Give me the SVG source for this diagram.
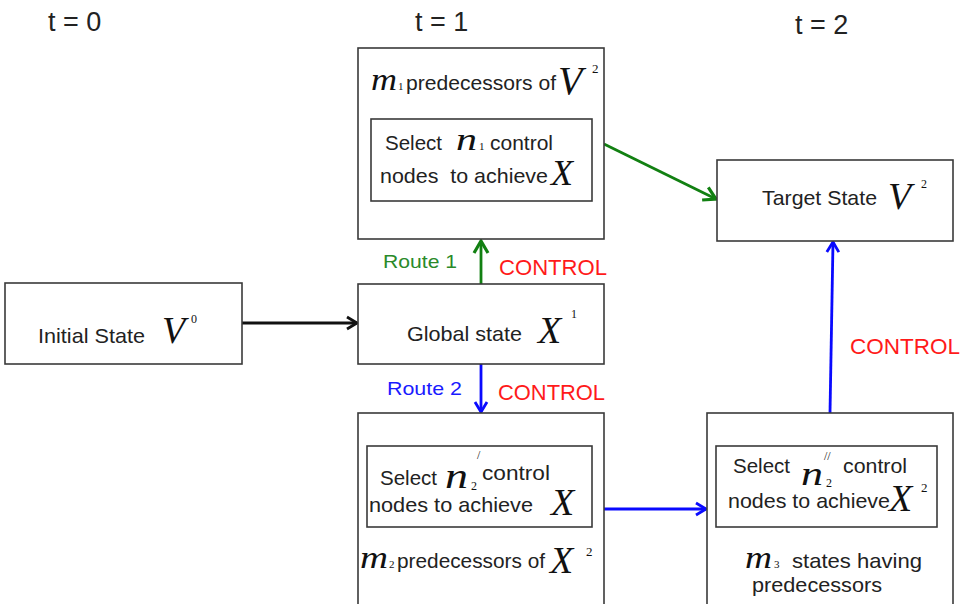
<svg xmlns="http://www.w3.org/2000/svg" width="970" height="604" viewBox="0 0 970 604">
<style>
.box{fill:#fff;stroke:#3a3a3a;stroke-width:1.6}
.s{font-family:"Liberation Sans",Arial,sans-serif;fill:#222;font-size:21px}
.m{font-family:"Liberation Serif","Times New Roman",serif;font-style:italic;fill:#111}
.n{font-family:"Liberation Serif","Times New Roman",serif;fill:#111}
.ctl{font-family:"Liberation Sans",Arial,sans-serif;font-size:22px;fill:#ff1a1a}
.con{fill:none;stroke-width:2.8}
</style>
<defs>
<marker id="ak" markerUnits="userSpaceOnUse" markerWidth="16" markerHeight="16" refX="13" refY="8" orient="auto"><path d="M3,2 L13,8 L3,14" fill="none" stroke="#111" stroke-width="2.8"/></marker>
<marker id="ag" markerUnits="userSpaceOnUse" markerWidth="18" markerHeight="18" refX="15" refY="9" orient="auto"><path d="M3,2 L15,9 L3,16" fill="none" stroke="#128012" stroke-width="3.2"/></marker>
<marker id="ab" markerUnits="userSpaceOnUse" markerWidth="16" markerHeight="16" refX="13" refY="8" orient="auto"><path d="M3,2 L13,8 L3,14" fill="none" stroke="#0a0aff" stroke-width="2.8"/></marker>
</defs>
<rect width="970" height="604" fill="#fff"/>
<g id="time-labels" class="s" style="font-size:27px">
<text x="48" y="31">t = 0</text>
<text x="415" y="31">t = 1</text>
<text x="795" y="34">t = 2</text>
</g>
<g id="connectors">
<line class="con" x1="242" y1="323" x2="357" y2="323" stroke="#111" marker-end="url(#ak)"/>
<line class="con" x1="481" y1="284" x2="481" y2="241" stroke="#128012" marker-end="url(#ag)"/>
<line class="con" x1="481" y1="364" x2="481" y2="412" stroke="#0a0aff" marker-end="url(#ab)"/>
<line class="con" x1="604" y1="144" x2="716" y2="199" stroke="#128012" stroke-width="3.4" marker-end="url(#ag)"/>
<line class="con" x1="604" y1="509" x2="706" y2="509" stroke="#0a0aff" marker-end="url(#ab)"/>
<line class="con" x1="830" y1="413" x2="833" y2="242" stroke="#0a0aff" marker-end="url(#ab)"/>
<text class="s" x="383" y="268" style="fill:#2a8a2a;font-size:19px" textLength="74" lengthAdjust="spacingAndGlyphs">Route 1</text>
<text class="ctl" x="499" y="275" textLength="108" lengthAdjust="spacingAndGlyphs">CONTROL</text>
<text class="s" x="387" y="395" style="fill:#1a1aff;font-size:19px" textLength="75" lengthAdjust="spacingAndGlyphs">Route 2</text>
<text class="ctl" x="498" y="400" textLength="107" lengthAdjust="spacingAndGlyphs">CONTROL</text>
<text class="ctl" x="850" y="354" textLength="110" lengthAdjust="spacingAndGlyphs">CONTROL</text>
</g>
<g id="initial-state">
<rect class="box" x="5" y="283" width="237" height="81"/>
<text class="s" x="38" y="343" textLength="107" lengthAdjust="spacingAndGlyphs">Initial State</text>
<text class="m" x="162" y="343" font-size="38">V</text>
<text class="n" x="191" y="323" font-size="12">0</text>
</g>
<g id="global-state">
<rect class="box" x="358" y="284" width="246" height="80"/>
<text class="s" x="407" y="341" textLength="115" lengthAdjust="spacingAndGlyphs">Global state</text>
<text class="m" x="538" y="343" font-size="38">X</text>
<text class="n" x="571" y="318" font-size="12">1</text>
</g>
<g id="route1-predecessors">
<rect class="box" x="358" y="48" width="246" height="191"/>
<text class="m" x="371" y="90" font-size="31" textLength="26" lengthAdjust="spacingAndGlyphs">m</text>
<text class="n" x="398" y="90" font-size="11">1</text>
<text class="s" x="406" y="90" textLength="150" lengthAdjust="spacingAndGlyphs">predecessors of</text>
<text class="m" x="558" y="94" font-size="40">V</text>
<text class="n" x="592" y="73" font-size="13">2</text>
<rect class="box" x="371" y="119" width="221" height="82"/>
<text class="s" x="385" y="150" textLength="57" lengthAdjust="spacingAndGlyphs">Select</text>
<text class="m" x="456" y="150" font-size="32" textLength="21" lengthAdjust="spacingAndGlyphs">n</text>
<text class="n" x="479" y="150" font-size="11">1</text>
<text class="s" x="490" y="150" textLength="63" lengthAdjust="spacingAndGlyphs">control</text>
<text class="s" x="380" y="183" xml:space="preserve" textLength="168" lengthAdjust="spacingAndGlyphs">nodes  to achieve</text>
<text class="m" x="551" y="185" font-size="36">X</text>
</g>
<g id="target-state">
<rect class="box" x="717" y="160" width="236" height="81"/>
<text class="s" x="762" y="205" textLength="115" lengthAdjust="spacingAndGlyphs">Target State</text>
<text class="m" x="888" y="209" font-size="38">V</text>
<text class="n" x="921" y="188" font-size="12">2</text>
</g>
<g id="route2-predecessors">
<rect class="box" x="358" y="413" width="246" height="192"/>
<rect class="box" x="367" y="446" width="225" height="81"/>
<text class="s" x="380" y="485" textLength="57" lengthAdjust="spacingAndGlyphs">Select</text>
<text class="m" x="445" y="488" font-size="36" textLength="23" lengthAdjust="spacingAndGlyphs">n</text>
<text class="n" x="471" y="490" font-size="12">2</text>
<text class="n" x="477" y="459" font-size="12">/</text>
<text class="s" x="482" y="480" textLength="68" lengthAdjust="spacingAndGlyphs">control</text>
<text class="s" x="369" y="512" textLength="164" lengthAdjust="spacingAndGlyphs">nodes to achieve</text>
<text class="m" x="551" y="515" font-size="38">X</text>
<text class="m" x="360" y="568" font-size="31" textLength="28" lengthAdjust="spacingAndGlyphs">m</text>
<text class="n" x="389" y="568" font-size="11">2</text>
<text class="s" x="397" y="568" textLength="148" lengthAdjust="spacingAndGlyphs">predecessors of</text>
<text class="m" x="550" y="573" font-size="38">X</text>
<text class="n" x="586" y="556" font-size="13">2</text>
</g>
<g id="route2-states">
<rect class="box" x="707" y="413" width="246" height="192"/>
<rect class="box" x="716" y="446" width="221" height="81"/>
<text class="s" x="733" y="473" textLength="57" lengthAdjust="spacingAndGlyphs">Select</text>
<text class="m" x="801" y="485" font-size="34" textLength="22" lengthAdjust="spacingAndGlyphs">n</text>
<text class="n" x="826" y="487" font-size="12">2</text>
<text class="n" x="824" y="460" font-size="12">//</text>
<text class="s" x="843" y="473" textLength="64" lengthAdjust="spacingAndGlyphs">control</text>
<text class="s" x="728" y="508" textLength="162" lengthAdjust="spacingAndGlyphs">nodes to achieve</text>
<text class="m" x="889" y="511" font-size="38">X</text>
<text class="n" x="921" y="492" font-size="13">2</text>
<text class="m" x="745" y="568" font-size="31" textLength="27" lengthAdjust="spacingAndGlyphs">m</text>
<text class="n" x="774" y="568" font-size="11">3</text>
<text class="s" x="792" y="568" textLength="130" lengthAdjust="spacingAndGlyphs">states having</text>
<text class="s" x="752" y="592" textLength="130" lengthAdjust="spacingAndGlyphs">predecessors</text>
</g>
</svg>
